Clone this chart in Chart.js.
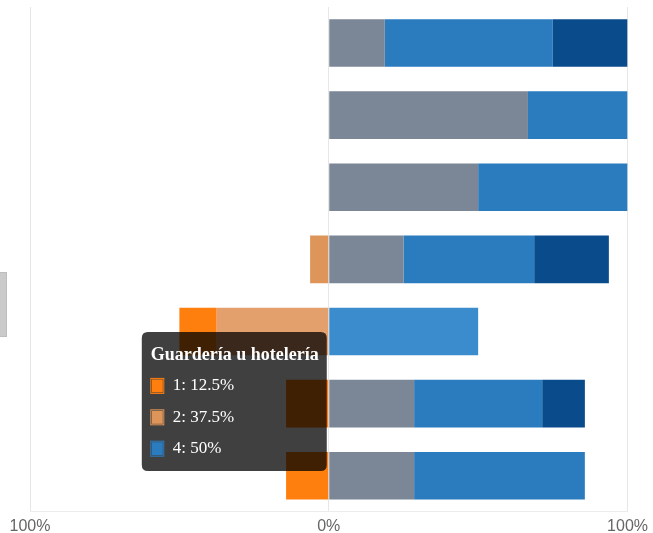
<!DOCTYPE html>
<html>
<head>
<meta charset="utf-8">
<script src="https://cdn.jsdelivr.net/npm/chart.js@4/dist/chart.umd.min.js"></script>
<style>
  html, body { margin: 0; padding: 0; background: #fff; }
  #wrap { position: relative; width: 653px; height: 533px; }
  #side { position: absolute; left: 0; top: 272px; width: 6px; height: 63px; background: #cacaca; border: 1px solid #bdbdbd; border-left: none; }
</style>
</head>
<body>
<div id="wrap">
  <canvas id="grafico" width="653" height="533"></canvas>
  <div id="side"></div>
</div>
<script>
const categorias = ['Paseo', 'Adiestramiento', 'Veterinaria', 'Alimentación', 'Guardería u hotelería', 'Peluquería', 'Accesorios'];
const nivel1 = [0, 0, 0, 0, -12.5, -14.29, -14.29];
const nivel2 = [0, 0, 0, -6.25, -37.5, 0, 0];
const nivel3 = [18.75, 66.67, 50, 25, 0, 28.57, 28.57];
const nivel4 = [56.25, 33.33, 50, 43.75, 50, 42.86, 57.14];
const nivel5 = [25, 0, 0, 25, 0, 14.29, 0];
const ticksX = [-100, 0, 100];
const filaActiva = 4;

Chart.Tooltip.positioners.fijo = function (elements, eventPosition) {
    return { x: this.chart.scales.x.getPixelForValue(0), y: eventPosition.y };
};

function serie(label, data, color, hover, orden) {
    return {
        label: label,
        data: data,
        backgroundColor: color,
        hoverBackgroundColor: hover,
        borderWidth: 0,
        categoryPercentage: 1,
        barPercentage: 0.66,
        order: orden
    };
}

const ctx = document.getElementById('grafico').getContext('2d');
const chart = new Chart(ctx, {
    type: 'bar',
    data: {
        labels: categorias,
        datasets: [
            serie('1', nivel1, '#ff7f0e', '#ff7f0e', 1),
            serie('2', nivel2, '#de955a', '#e4a06c', 0),
            serie('3', nivel3, '#7b8696', '#7b8696', 1),
            serie('4', nivel4, '#2b7bbf', '#3a8ccd', 1),
            serie('5', nivel5, '#0a4b8b', '#0a4b8b', 1)
        ]
    },
    options: {
        indexAxis: 'y',
        responsive: false,
        animation: false,
        layout: { padding: { left: 30, right: 25, top: 7, bottom: -8 } },
        plugins: {
            legend: { display: false },
            tooltip: {
                mode: 'index',
                position: 'fijo',
                xAlign: 'right',
                yAlign: 'center',
                caretSize: 0,
                caretPadding: 2,
                backgroundColor: 'rgba(0,0,0,0.75)',
                cornerRadius: 6,
                padding: { top: 12, bottom: 12, left: 9, right: 8 },
                titleFont: { family: 'Liberation Serif', size: 18, weight: 'bold' },
                bodyFont: { family: 'Liberation Serif', size: 17 },
                titleColor: '#fff',
                bodyColor: '#fff',
                titleMarginBottom: 10,
                bodySpacing: 11,
                boxWidth: 13,
                boxHeight: 15,
                boxPadding: 7,
                multiKeyBackground: 'rgba(0,0,0,0)',
                filter: item => item.raw !== 0,
                itemSort: (a, b) => a.datasetIndex - b.datasetIndex,
                callbacks: {
                    label: c => `${c.dataset.label}: ${Math.abs(c.raw)}%`,
                    labelColor: c => ({
                        borderColor: c.dataset.backgroundColor,
                        backgroundColor: c.dataset.backgroundColor,
                        borderWidth: 0
                    })
                }
            }
        },
        scales: {
            x: {
                stacked: true,
                min: -100,
                max: 100,
                afterBuildTicks: axis => { axis.ticks = ticksX.map(v => ({ value: v })); },
                grid: { color: '#e6e6e6', drawTicks: false },
                border: { color: '#ececec' },
                ticks: {
                    color: '#666',
                    padding: 5,
                    font: { family: 'Liberation Sans', size: 16 },
                    callback: v => Math.abs(v) + '%'
                }
            },
            y: {
                stacked: true,
                display: false
            }
        }
    }
});

const activos = chart.data.datasets
    .map((d, i) => ({ datasetIndex: i, index: filaActiva }))
    .filter(e => chart.data.datasets[e.datasetIndex].data[filaActiva] !== 0);
const barra = chart.getDatasetMeta(3).data[filaActiva];
chart.tooltip.setActiveElements(activos, { x: barra.x, y: barra.y + 70 });
chart.setActiveElements(activos);
chart.update();
</script>
</body>
</html>
